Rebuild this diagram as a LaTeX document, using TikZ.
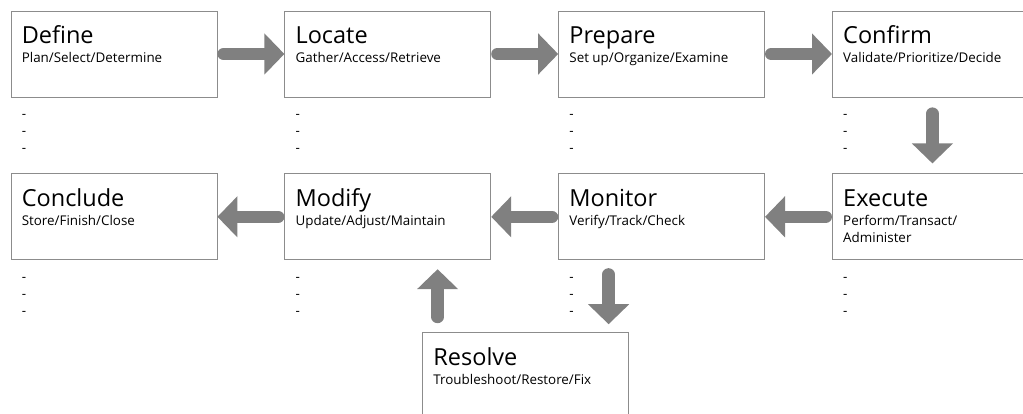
\documentclass[tikz,border=0pt]{standalone}
\usepackage{fontspec}
\setmainfont{Open Sans}
\usetikzlibrary{arrows.meta,positioning}

\begin{document}
\begin{tikzpicture}[x=1pt, y=1pt,
  stage/.style={draw=gray!90, line width=0.8pt, fill=white, minimum width=206pt, minimum height=86pt, inner sep=0pt},
  title/.style={anchor=base west, inner sep=0pt, font=\fontsize{23.5}{28}\selectfont},
  sub/.style={anchor=base west, inner sep=0pt, align=left, font=\fontsize{13.4}{17}\selectfont},
  flow/.style={draw=gray, line width=12.5pt, line cap=round, -{Triangle[length=20pt,width=40pt]}},
  node distance=67pt]
  \useasboundingbox (0,0) rectangle (1023,-414);
  \clip (0,0) rectangle (1023,-414);

  % top row, left to right
  \node[stage] (define) at (114,-54) {};
  \node[stage, right=of define] (locate) {};
  \node[stage, right=of locate] (prepare) {};
  \node[stage, right=of prepare] (confirm) {};
  % bottom row
  \node[stage, below=76pt of define] (conclude) {};
  \node[stage, right=of conclude] (modify) {};
  \node[stage, right=of modify] (monitor) {};
  \node[stage, right=of monitor] (execute) {};
  \node[stage, below=72pt of monitor, xshift=-136pt] (resolve) {};

  % headings and verbs inside the boxes
  \foreach \n/\t/\s in {define/Define/Plan\slash Select\slash Determine,
      locate/Locate/Gather\slash Access\slash Retrieve,
      prepare/Prepare/Set up\slash Organize\slash Examine,
      confirm/Confirm/Validate\slash Prioritize\slash Decide,
      execute/Execute/Perform\slash Transact\slash,
      monitor/Monitor/Verify\slash Track\slash Check,
      modify/Modify/Update\slash Adjust\slash Maintain,
      conclude/Conclude/Store\slash Finish\slash Close,
      resolve/Resolve/Troubleshoot\slash Restore\slash Fix} {
    \node[title] (\n-t) at ([shift={(11pt,-33pt)}]\n.north west) {\t};
    \node[sub] (\n-s) at ([shift={(11pt,-52pt)}]\n.north west) {\s};
  }
  \node[sub] (execute-s2) at ([shift={(11pt,-69pt)}]execute.north west) {Administer};
  % empty bullet lines under the boxes (base = last line)
  \foreach \n in {define,locate,prepare,confirm,conclude,modify,monitor,execute}
    \node[sub] (\n-n) at ([shift={(11pt,-55pt)}]\n.south west) {-\\-\\-};

  % arrows
  \draw[flow, shorten <=6.25pt] (define) -- (locate);
  \draw[flow, shorten <=6.25pt] (locate) -- (prepare);
  \draw[flow, shorten <=6.25pt] (prepare) -- (confirm);
  \draw[flow, shorten <=16.25pt, shorten >=10pt] ([xshift=-3pt]confirm.south) -- ([xshift=-3pt]execute.north);
  \draw[flow, shorten <=6.25pt] (execute) -- (monitor);
  \draw[flow, shorten <=6.25pt] (monitor) -- (modify);
  \draw[flow, shorten <=6.25pt] (modify) -- (conclude);
  \draw[flow, shorten <=14.25pt, shorten >=8pt] ([xshift=-53pt]monitor.south) -- ([xshift=-53pt]monitor.south |- resolve.north);
  \draw[flow, shorten <=15.25pt, shorten >=9pt] ([xshift=-88pt]resolve.north) -- ([xshift=-88pt]resolve.north |- modify.south);
\end{tikzpicture}
\end{document}
